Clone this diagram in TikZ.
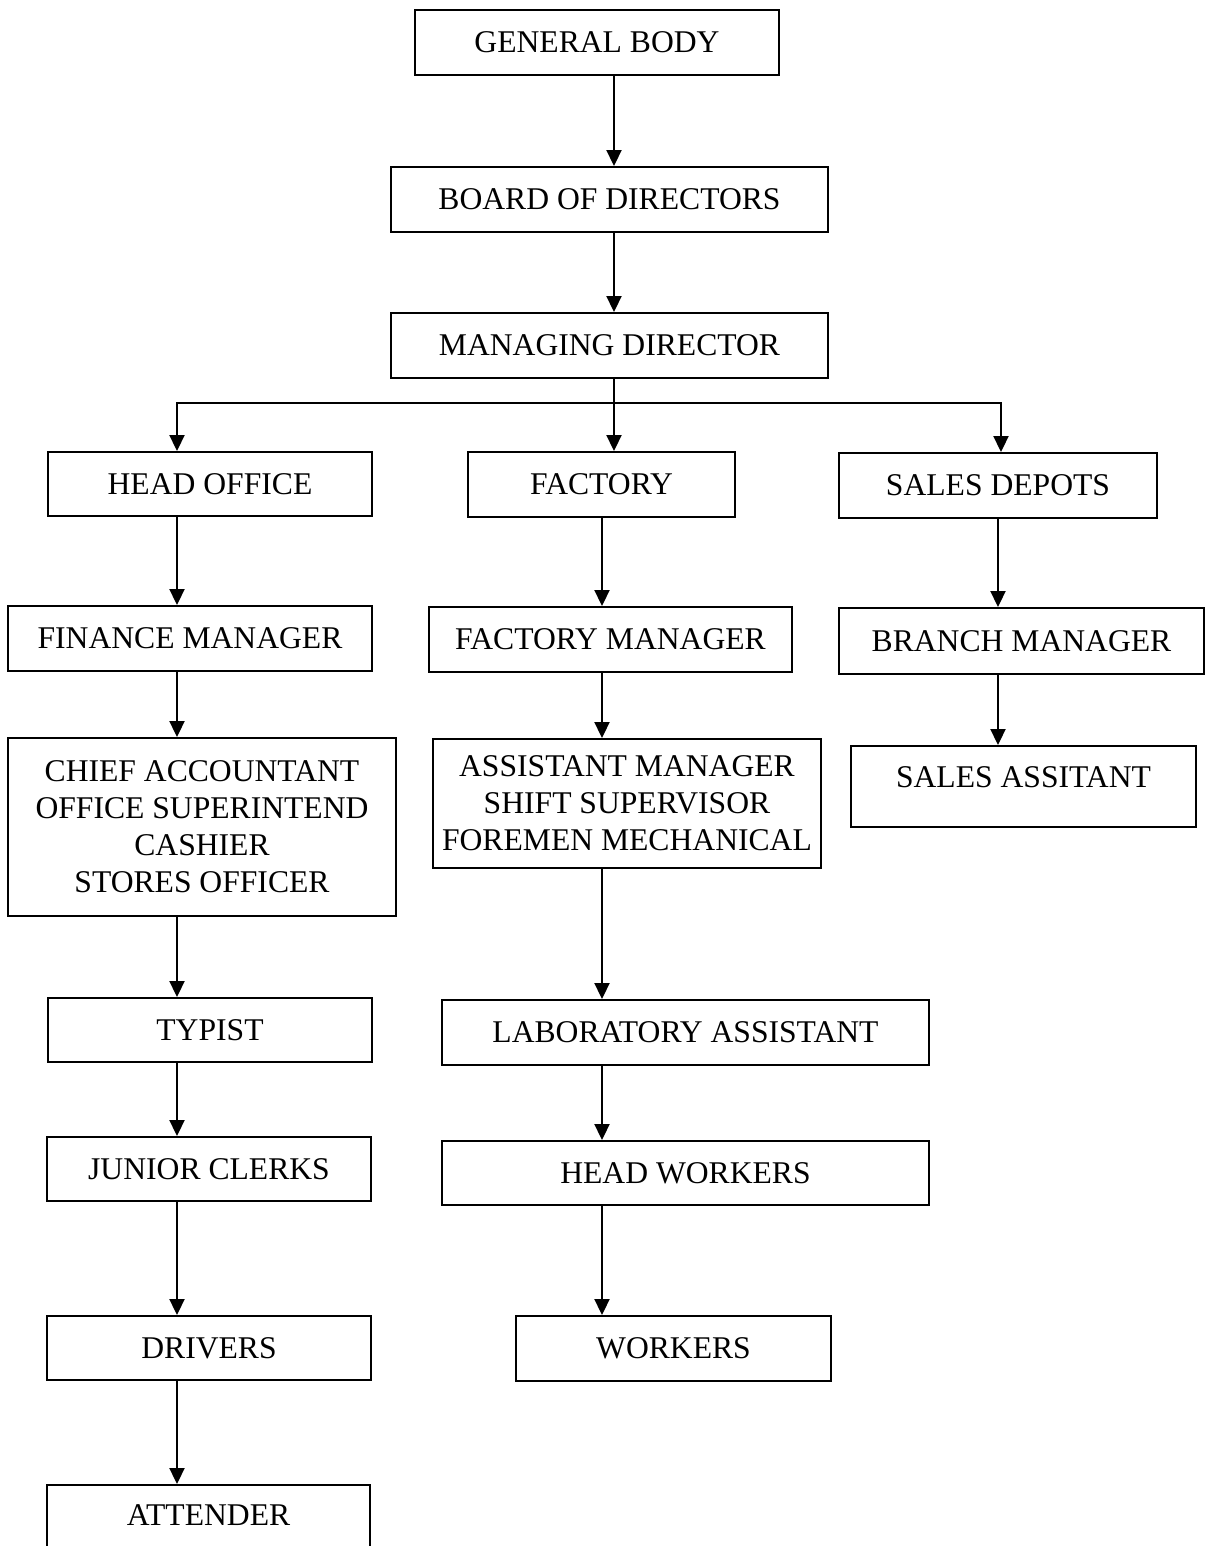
\documentclass[tikz,border=0pt]{standalone}
\usepackage{fontspec}
\setmainfont{Liberation Serif}
\usepackage{tikz}
\usetikzlibrary{positioning, arrows.meta}

\begin{document}
\begin{tikzpicture}[
        x=0.02cm, y=-0.02cm,
        box/.style={rectangle, draw, line width=1.1pt, inner sep=0pt, align=center, font=\fontsize{18}{21}\selectfont},
        arrow/.style={-{Triangle[width=0.3cm, length=0.32cm]}, line width=1.1pt},
        link/.style={line width=1.1pt}
    ]
        \useasboundingbox (0,0) rectangle (1211,1546);

        % top of the chart
        \node (general) [box, minimum width=7.28cm, minimum height=1.30cm] at (597,42.5) {GENERAL BODY};
        \node (board) [box, minimum width=8.74cm, minimum height=1.30cm] at (609.5,199.5) {BOARD OF DIRECTORS};
        \node (managing) [box, minimum width=8.74cm, minimum height=1.30cm] at (609.5,345.5) {MANAGING DIRECTOR};

        % three branches
        \node (headoffice) [box, minimum width=6.48cm, minimum height=1.28cm] at (210,484) {HEAD OFFICE};
        \node (factory) [box, minimum width=5.34cm, minimum height=1.30cm] at (601.5,484.5) {FACTORY};
        \node (depots) [box, minimum width=6.36cm, minimum height=1.30cm] at (998,485.5) {SALES DEPOTS};

        \node (finance) [box, minimum width=7.28cm, minimum height=1.30cm] at (190,638.5) {FINANCE MANAGER};
        \node (factorymgr) [box, minimum width=7.26cm, minimum height=1.30cm] at (610.5,639.5) {FACTORY MANAGER};
        \node (branch) [box, minimum width=7.30cm, minimum height=1.32cm] at (1021.5,641) {BRANCH MANAGER};

        \node (accounts) [box, minimum width=7.76cm, minimum height=3.56cm] at (202,827) {CHIEF ACCOUNTANT\\OFFICE SUPERINTEND\\CASHIER\\STORES OFFICER};
        \node (assistant) [box, minimum width=7.76cm, minimum height=2.58cm] at (627,803.5) {ASSISTANT MANAGER\\SHIFT SUPERVISOR\\FOREMEN MECHANICAL};
        \node (salesasst) [box, minimum width=6.90cm, minimum height=1.62cm, text depth=0.36cm] at (1023.5,786.5) {SALES ASSITANT};

        \node (typist) [box, minimum width=6.48cm, minimum height=1.28cm] at (210,1030) {TYPIST};
        \node (lab) [box, minimum width=9.74cm, minimum height=1.30cm] at (685.5,1032.5) {LABORATORY ASSISTANT};

        \node (clerks) [box, minimum width=6.48cm, minimum height=1.28cm] at (209,1169) {JUNIOR CLERKS};
        \node (headworkers) [box, minimum width=9.74cm, minimum height=1.28cm] at (685.5,1173) {HEAD WORKERS};

        \node (drivers) [box, minimum width=6.48cm, minimum height=1.28cm] at (209,1348) {DRIVERS};
        \node (workers) [box, minimum width=6.30cm, minimum height=1.30cm] at (673.5,1348.5) {WORKERS};

        \node (attender) [box, minimum width=6.46cm, minimum height=1.60cm, text depth=0.40cm] at (208.5,1525) {ATTENDER};

        % lines the arrows run along
        \coordinate (lx) at (177,0);
        \coordinate (mx) at (602,0);
        \coordinate (rx) at (998,0);
        \coordinate (topx) at (614,0);
        \coordinate (split) at (614,403);
        \coordinate (depx) at (1001,0);

        \draw[arrow] (general.south -| topx) -- (board.north -| topx);
        \draw[arrow] (board.south -| topx) -- (managing.north -| topx);
        \draw[link] (managing.south -| topx) -- (split);
        \draw[arrow] (split) -| (headoffice.north -| lx);
        \draw[arrow] (split) -- (factory.north -| split);
        \draw[arrow] (split) -| (depots.north -| depx);

        \draw[arrow] (headoffice.south -| lx) -- (finance.north -| lx);
        \draw[arrow] (finance.south -| lx) -- (accounts.north -| lx);
        \draw[arrow] (accounts.south -| lx) -- (typist.north -| lx);
        \draw[arrow] (typist.south -| lx) -- (clerks.north -| lx);
        \draw[arrow] (clerks.south -| lx) -- (drivers.north -| lx);
        \draw[arrow] (drivers.south -| lx) -- (attender.north -| lx);

        \draw[arrow] (factory.south -| mx) -- (factorymgr.north -| mx);
        \draw[arrow] (factorymgr.south -| mx) -- (assistant.north -| mx);
        \draw[arrow] (assistant.south -| mx) -- (lab.north -| mx);
        \draw[arrow] (lab.south -| mx) -- (headworkers.north -| mx);
        \draw[arrow] (headworkers.south -| mx) -- (workers.north -| mx);

        \draw[arrow] (depots.south -| rx) -- (branch.north -| rx);
        \draw[arrow] (branch.south -| rx) -- (salesasst.north -| rx);
    \end{tikzpicture}
\end{document}
